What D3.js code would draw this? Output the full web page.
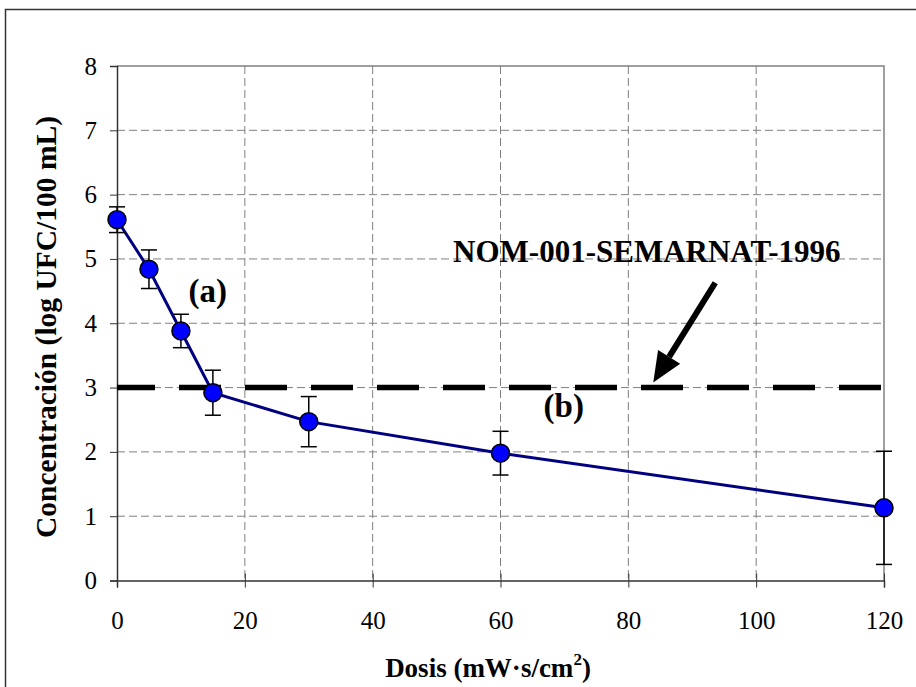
<!DOCTYPE html>
<html>
<head>
<meta charset="utf-8">
<script src="https://cdn.jsdelivr.net/npm/d3@7"></script>
<style>
  body { margin: 0; background: #fff; }
  svg { display: block; font-family: "Liberation Serif", "Times New Roman", serif; }
</style>
</head>
<body>
<svg width="916" height="687"></svg>
<script>
var svg = d3.select("svg");

// data
var dosis = [0, 5, 10, 15, 30, 60, 120];
var concentracion = [5.61, 4.84, 3.88, 2.92, 2.47, 1.98, 1.13];
var errores = [0.2, 0.3, 0.26, 0.35, 0.39, 0.34, 0.88];
var xTicks = [0, 20, 40, 60, 80, 100, 120];
var yTicks = [0, 1, 2, 3, 4, 5, 6, 7, 8];
var norma = 3;

var mLeft = 117, mRight = 884, mTop = 66, mBottom = 580.5;

var x = d3.scaleLinear().domain([0, 120]).range([mLeft, mRight]);
var y = d3.scaleLinear().domain([0, 8]).range([mBottom, mTop]);

// outer frame (cut off at right and bottom like the original)
svg.append("path")
  .attr("d", "M5.5,690 L5.5,9.5 L920,9.5")
  .attr("fill", "none")
  .attr("stroke", "#333")
  .attr("stroke-width", 1.5);

// grid
svg.append("g")
  .selectAll("line")
  .data(yTicks.filter(function(d) { return d > 0 && d < 8; }))
  .enter().append("line")
  .attr("x1", mLeft).attr("x2", mRight)
  .attr("y1", function(d) { return y(d); })
  .attr("y2", function(d) { return y(d); })
  .attr("stroke", "#808080")
  .attr("stroke-dasharray", "8,4");

svg.append("g")
  .selectAll("line")
  .data(xTicks.filter(function(d) { return d > 0 && d < 120; }))
  .enter().append("line")
  .attr("y1", mTop).attr("y2", mBottom)
  .attr("x1", function(d) { return x(d); })
  .attr("x2", function(d) { return x(d); })
  .attr("stroke", "#808080")
  .attr("stroke-dasharray", "8,4");

// plot area top/right border
svg.append("path")
  .attr("d", "M" + mLeft + "," + mTop + " L" + mRight + "," + mTop + " L" + mRight + "," + mBottom)
  .attr("fill", "none")
  .attr("stroke", "#808080")
  .attr("stroke-width", 1.5);

// axes
var yAxis = svg.append("g")
  .attr("transform", "translate(" + mLeft + ",0)")
  .call(d3.axisLeft(y).tickValues(yTicks).tickSize(7).tickPadding(13));

var xAxis = svg.append("g")
  .attr("transform", "translate(0," + mBottom + ")")
  .call(d3.axisBottom(x).tickValues(xTicks).tickSize(7).tickPadding(24));

xAxis.selectAll(".tick line").attr("y1", -7);

[xAxis, yAxis].forEach(function(a) {
  a.select(".domain").attr("stroke", "#333").attr("stroke-width", 1.5);
  a.selectAll(".tick line").attr("stroke", "#333");
  a.selectAll("text")
    .attr("font-family", "Liberation Serif, Times New Roman, serif")
    .attr("font-size", 25)
    .attr("fill", "#000");
});

// norm line
svg.append("line")
  .attr("x1", x(0)).attr("x2", x(120))
  .attr("y1", y(norma)).attr("y2", y(norma))
  .attr("stroke", "#000")
  .attr("stroke-width", 5.5)
  .attr("stroke-dasharray", "42,24")
  .attr("stroke-dashoffset", 4);

// series line
var line = d3.line()
  .x(function(d, i) { return x(dosis[i]); })
  .y(function(d) { return y(d); });

svg.append("path")
  .datum(concentracion)
  .attr("d", line)
  .attr("fill", "none")
  .attr("stroke", "#000080")
  .attr("stroke-width", 3);

// error bars
var eb = svg.append("g").selectAll("g")
  .data(dosis)
  .enter().append("g");

eb.append("line")
  .attr("x1", function(d) { return x(d); })
  .attr("x2", function(d) { return x(d); })
  .attr("y1", function(d, i) { return y(concentracion[i] + errores[i]); })
  .attr("y2", function(d, i) { return y(concentracion[i] - errores[i]); })
  .attr("stroke", "#000").attr("stroke-width", 1.5);

eb.append("line")
  .attr("x1", function(d) { return x(d) - 8; })
  .attr("x2", function(d) { return x(d) + 8; })
  .attr("y1", function(d, i) { return y(concentracion[i] + errores[i]); })
  .attr("y2", function(d, i) { return y(concentracion[i] + errores[i]); })
  .attr("stroke", "#000").attr("stroke-width", 1.5);

eb.append("line")
  .attr("x1", function(d) { return x(d) - 8; })
  .attr("x2", function(d) { return x(d) + 8; })
  .attr("y1", function(d, i) { return y(concentracion[i] - errores[i]); })
  .attr("y2", function(d, i) { return y(concentracion[i] - errores[i]); })
  .attr("stroke", "#000").attr("stroke-width", 1.5);

// markers
svg.append("g").selectAll("circle")
  .data(concentracion)
  .enter().append("circle")
  .attr("cx", function(d, i) { return x(dosis[i]); })
  .attr("cy", function(d) { return y(d); })
  .attr("r", 9)
  .attr("fill", "#0000ff")
  .attr("stroke", "#000")
  .attr("stroke-width", 1.5);

// annotations
svg.append("text")
  .attr("x", x(14.2)).attr("y", y(4.33))
  .attr("text-anchor", "middle")
  .attr("font-weight", "bold")
  .attr("font-size", 33)
  .text("(a)");

svg.append("text")
  .attr("x", x(69.9)).attr("y", y(2.55))
  .attr("text-anchor", "middle")
  .attr("font-weight", "bold")
  .attr("font-size", 33)
  .text("(b)");

svg.append("text")
  .attr("x", x(82.9)).attr("y", y(4.95))
  .attr("text-anchor", "middle")
  .attr("font-weight", "bold")
  .attr("font-size", 31)
  .text("NOM-001-SEMARNAT-1996");

// arrow
var ax1 = x(93.6), ay1 = y(4.63), ax2 = x(83.9), ay2 = y(3.08);
var ang = Math.atan2(ay2 - ay1, ax2 - ax1);
var headLen = 30, headW = 13;
var bx = ax2 - headLen * Math.cos(ang), by = ay2 - headLen * Math.sin(ang);
svg.append("line")
  .attr("x1", ax1).attr("y1", ay1)
  .attr("x2", bx).attr("y2", by)
  .attr("stroke", "#000")
  .attr("stroke-width", 6);
svg.append("path")
  .attr("d", "M" + ax2 + "," + ay2 +
    " L" + (bx + headW * Math.sin(ang)) + "," + (by - headW * Math.cos(ang)) +
    " L" + (bx - headW * Math.sin(ang)) + "," + (by + headW * Math.cos(ang)) + " Z")
  .attr("fill", "#000");

// axis titles
var xt = svg.append("text")
  .attr("x", 488).attr("y", 677)
  .attr("text-anchor", "middle")
  .attr("font-weight", "bold")
  .attr("font-size", 27);
xt.append("tspan").text("Dosis (mW\u00b7s/cm");
xt.append("tspan").attr("dy", -12).attr("font-size", 17).text("2");
xt.append("tspan").attr("dy", 12).text(")");

svg.append("text")
  .attr("transform", "translate(56,327) rotate(-90)")
  .attr("text-anchor", "middle")
  .attr("font-weight", "bold")
  .attr("font-size", 29.5)
  .text("Concentración (log UFC/100 mL)");
</script>
</body>
</html>
